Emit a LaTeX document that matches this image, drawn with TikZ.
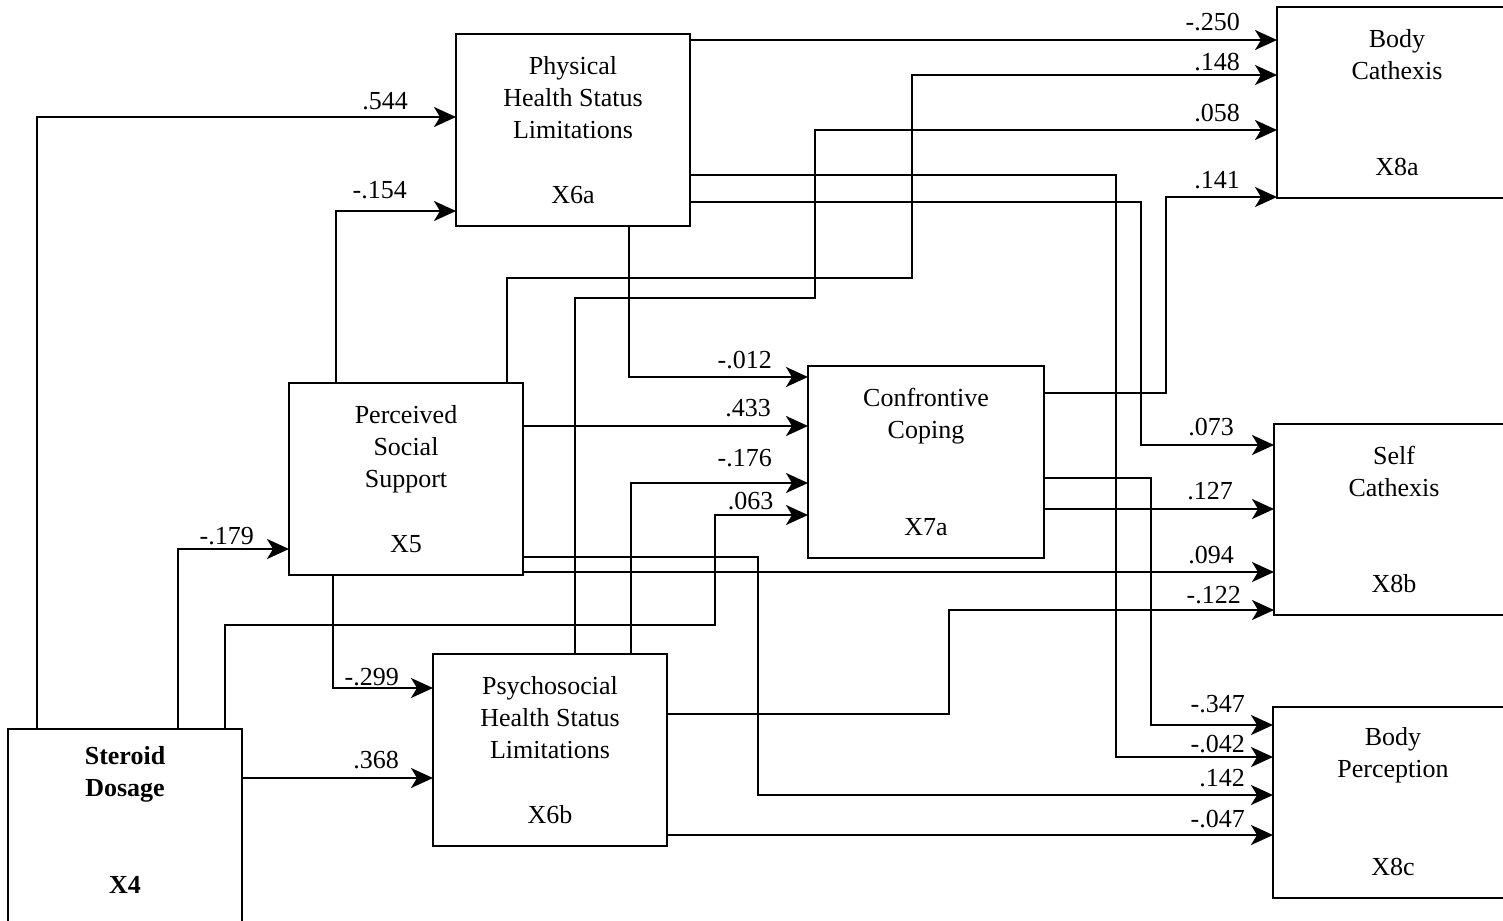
\documentclass[tikz,border=0pt]{standalone}
\usepackage{fontspec}
\setmainfont{Liberation Serif}
\usetikzlibrary{arrows.meta,positioning}

\begin{document}
\begin{tikzpicture}[
  x=0.5pt, y=-0.5pt,
  font=\fontsize{13}{16}\selectfont,
  >={Stealth[length=11pt, width=10pt, inset=3pt]},
  var/.style={draw, line width=1.2pt, inner sep=0pt, outer sep=0pt, anchor=north west, minimum width=117pt, minimum height=96pt},
  outcome/.style={var, minimum width=120pt, minimum height=95.5pt},
  vname/.style={align=center, inner sep=0pt},
  vid/.style={inner sep=0pt},
  heavy/.style={font=\fontsize{13}{16}\selectfont\bfseries},
  link/.style={->, line width=1.2pt},
  wt/.style={inner sep=1pt}
]
\useasboundingbox (0,0) rectangle (1503,920);

\node[var, minimum height=98pt] (x4) at (8,729) {};
\node[var] (x5) at (289,383) {};
\node[var] (x6a) at (456,34) {};
\node[var] (x6b) at (433,654) {};
\node[var, minimum width=118pt] (x7a) at (808,366) {};
\node[outcome] (x8a) at (1277,7) {};
\node[outcome] (x8b) at (1274,424) {};
\node[outcome] (x8c) at (1273,707) {};

\node[vname, heavy, below=8.5pt of x4.north] (x4-t) {Steroid\\Dosage};
\node[vid, heavy, above=15.7pt of x4.south] (x4-id) {X4};
\node[vname, below=11pt of x5.north] (x5-t) {Perceived\\Social\\Support};
\node[vid, above=11pt of x5.south] (x5-id) {X5};
\node[vname, below=11pt of x6a.north] (x6a-t) {Physical\\Health Status\\Limitations};
\node[vid, above=11pt of x6a.south] (x6a-id) {X6a};
\node[vname, below=11pt of x6b.north] (x6b-t) {Psychosocial\\Health Status\\Limitations};
\node[vid, above=11pt of x6b.south] (x6b-id) {X6b};
\node[vname, below=11pt of x7a.north] (x7a-t) {Confrontive\\Coping};
\node[vid, above=11pt of x7a.south] (x7a-id) {X7a};
\node[vname, below=11pt of x8a.north] (x8a-t) {Body\\Cathexis};
\node[vid, above=11pt of x8a.south] (x8a-id) {X8a};
\node[vname, below=11pt of x8b.north] (x8b-t) {Self\\Cathexis};
\node[vid, above=11pt of x8b.south] (x8b-id) {X8b};
\node[vname, below=10pt of x8c.north] (x8c-t) {Body\\Perception};
\node[vid, above=11pt of x8c.south] (x8c-id) {X8c};

\draw[link] (37,0 |- x4.north) |- (x6a.west |- 0,117) node[wt, above left=2.2pt and 22.5pt] {.544};
\draw[link] (336,0 |- x5.north) |- (x6a.west |- 0,211) node[wt, above left=4.7pt and 23pt] {-.154};
\draw[link] (178,0 |- x4.north) |- (x5.west |- 0,549) node[wt, above left=0.7pt and 16pt] {-.179};
\draw[link] (333,0 |- x5.south) |- (x6b.west |- 0,688) node[wt, above left=-0.3pt and 15.5pt] {-.299};
\draw[link] (x4.east |- 0,778) -- (x6b.west |- 0,778) node[wt, above left=3.2pt and 15.5pt] {.368};

\draw[link] (629,0 |- x6a.south) |- (x7a.west |- 0,377) node[wt, above left=2.7pt and 16.5pt] {-.012};
\draw[link] (x5.east |- 0,426) -- (x7a.west |- 0,426) node[wt, above left=3.2pt and 17pt] {.433};
\draw[link] (631,0 |- x6b.north) |- (x7a.west |- 0,483) node[wt, above left=6.7pt and 16.5pt] {-.176};
\draw[link] (225,0 |- x4.north) |- (715,625) |- (x7a.west |- 0,515) node[wt, above left=1.2pt and 15.7pt] {.063};

\draw[link] (x6a.east |- 0,40) -- (x8a.west |- 0,40) node[wt, above left=3.2pt and 17pt] {-.250};
\draw[link] (507,0 |- x5.north) |- (912,278) |- (x8a.west |- 0,75) node[wt, above left=0.7pt and 17pt] {.148};
\draw[link] (575,0 |- x6b.north) |- (815,298) |- (x8a.west |- 0,130) node[wt, above left=2.7pt and 17pt] {.058};
\draw[link] (x7a.east |- 0,393) -| (1166,197) -- (x8a.west |- 0,197) node[wt, above left=2.7pt and 17pt] {.141};

\draw[link] (x6a.east |- 0,202) -| (1141,445) -- (x8b.west |- 0,445) node[wt, above left=3.2pt and 18.5pt] {.073};
\draw[link] (x7a.east |- 0,509) -- (x8b.west |- 0,509) node[wt, above left=3.2pt and 19pt] {.127};
\draw[link] (x5.east |- 0,572) -- (x8b.west |- 0,572) node[wt, above left=2.7pt and 18.5pt] {.094};
\draw[link] (x6b.east |- 0,714) -| (949,610) -- (x8b.west |- 0,610) node[wt, above left=1.7pt and 15pt] {-.122};

\draw[link] (x7a.east |- 0,478) -| (1151,725) -- (x8c.west |- 0,725) node[wt, above left=4.7pt and 12.5pt] {-.347};
\draw[link] (x6a.east |- 0,175) -| (1116,757) -- (x8c.west |- 0,757) node[wt, above left=0.7pt and 12.5pt] {-.042};
\draw[link] (x5.east |- 0,557) -| (758,795) -- (x8c.west |- 0,795) node[wt, above left=2.7pt and 12.5pt] {.142};
\draw[link] (x6b.east |- 0,835) -- (x8c.west |- 0,835) node[wt, above left=2.2pt and 12.5pt] {-.047};

\end{tikzpicture}
\end{document}
